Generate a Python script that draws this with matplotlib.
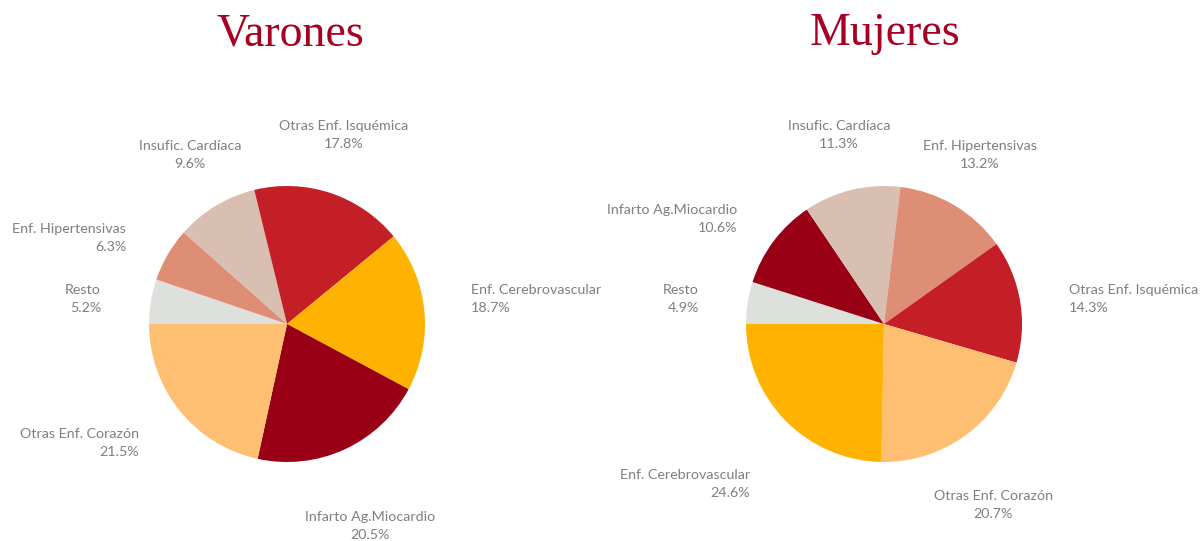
import matplotlib
matplotlib.use("Agg")
import matplotlib.pyplot as plt

# ---- data ----
titles = ["Varones", "Mujeres"]

men_labels = ["Resto", "Enf. Hipertensivas", "Insufic. Cardíaca", "Otras Enf. Isquémica",
              "Enf. Cerebrovascular", "Infarto Ag.Miocardio", "Otras Enf. Corazón"]
men_values = [5.2, 6.3, 9.6, 17.8, 18.7, 20.5, 21.5]

women_labels = ["Resto", "Infarto Ag.Miocardio", "Insufic. Cardíaca", "Enf. Hipertensivas",
                "Otras Enf. Isquémica", "Otras Enf. Corazón", "Enf. Cerebrovascular"]
women_values = [4.9, 10.6, 11.3, 13.2, 14.3, 20.7, 24.6]

cause_colors = {
    "Resto": "#DEE0DC",
    "Enf. Hipertensivas": "#DF8E76",
    "Insufic. Cardíaca": "#D9BFB1",
    "Otras Enf. Isquémica": "#C41F27",
    "Enf. Cerebrovascular": "#FFB300",
    "Infarto Ag.Miocardio": "#990016",
    "Otras Enf. Corazón": "#FFBF73",
}

# ---- layout (pixel space, y measured from top) ----
W, H = 1201, 541
pie_centers = [(287, 324), (884, 324)]
pie_radius = 138
title_pos = [(290, 34), (885, 34)]

# label anchor positions: (x, y of block centre, horizontal alignment)
men_label_pos = [
    (101, 299, "right"),    # Resto
    (126, 238, "right"),    # Hipert
    (190, 155, "center"),   # Insufic
    (344, 135, "center"),   # Otras Isq
    (471, 299, "left"),     # Cerebro
    (370, 526, "center"),   # Infarto
    (139, 443, "right"),    # Otras Corazon
]
women_label_pos = [
    (699, 299, "right"),    # Resto
    (737, 219, "right"),    # Infarto
    (839, 135, "center"),   # Insufic
    (980, 155, "center"),   # Hipert
    (1069, 299, "left"),    # Otras Isq
    (993, 505, "center"),   # Otras Corazon
    (750, 484, "right"),    # Cerebro
]

fig = plt.figure(figsize=(W / 100, H / 100), dpi=100)
ax = fig.add_axes([0, 0, 1, 1])

label_font = dict(family=["Lato", "DejaVu Sans"], fontsize=10.3, color="#7F7F7F")

for (cx, cy), labels, values, lpos, title, tpos in zip(
        pie_centers, [men_labels, women_labels], [men_values, women_values],
        [men_label_pos, women_label_pos], titles, title_pos):
    ax.pie(values, colors=[cause_colors[l] for l in labels], startangle=180,
           counterclock=False, center=(cx, H - cy), radius=pie_radius,
           wedgeprops=dict(linewidth=0))
    for lab, val, (x, y, ha) in zip(labels, values, lpos):
        ax.text(x, H - y, f"{lab}\n{val:.1f}%", ha=ha, va="center",
                multialignment=ha, linespacing=1.65, **label_font)
    ax.text(tpos[0], H - tpos[1], title, ha="center", va="center",
            family=["Liberation Serif", "DejaVu Serif"], fontsize=33, color="#A50021")

ax.set_xlim(0, W)
ax.set_ylim(0, H)
ax.set_aspect("equal")
ax.axis("off")

fig.savefig("out.png", dpi=100)
